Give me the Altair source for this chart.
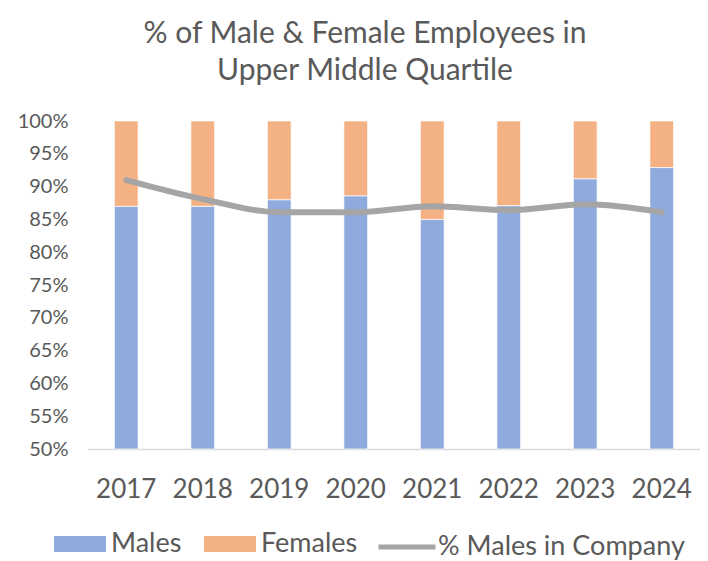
import altair as alt
import pandas as pd

years = ["2017", "2018", "2019", "2020", "2021", "2022", "2023", "2024"]
males = [87.0, 87.0, 88.0, 88.6, 85.0, 87.1, 91.2, 92.9]
company_males = [91.0, 88.1, 86.1, 86.1, 87.0, 86.4, 87.3, 86.1]
bar_series = ["Males", "Females"]
bar_colors = ["#8FAADC", "#F4B183"]
line_series = ["% Males in Company"]
line_colors = ["#A5A5A5"]
y_ticks = [50, 55, 60, 65, 70, 75, 80, 85, 90, 95, 100]

rows = []
for y, m in zip(years, males):
    rows.append({"year": y, "series": "Males", "start": 50, "end": m})
    rows.append({"year": y, "series": "Females", "start": m, "end": 100})
bars_df = pd.DataFrame(rows)
line_df = pd.DataFrame({"year": years, "value": company_males, "series": line_series[0]})

FONT = "Lato"
TXT = "#595959"

x_axis = alt.Axis(labelAngle=0, labelFontSize=26, labelColor=TXT, labelFont=FONT,
                  ticks=False, domainColor="#D9D9D9", domainWidth=1.5,
                  labelPadding=27, grid=False)
y_axis = alt.Axis(values=y_ticks, labelExpr="datum.value + '%'", labelFontSize=20,
                  labelColor=TXT, labelFont=FONT, ticks=False, domain=False,
                  grid=False, labelPadding=20, labelOverlap=False, tickCount=11)
x_scale = alt.Scale(paddingInner=0.69, paddingOuter=0.345)
y_scale = alt.Scale(domain=[50, 100], zero=False, nice=False)

bar_legend = alt.Legend(
    title=None, orient="none", direction="horizontal", legendX=-34, legendY=397,
    labelFontSize=27, labelColor=TXT, labelFont=FONT, labelOffset=5, labelLimit=400,
    columnPadding=22, symbolSize=2704, symbolStrokeWidth=0,
    symbolType="M-1,-0.31L1,-0.31L1,0.31L-1,0.31Z",
)
line_legend = alt.Legend(
    title=None, orient="none", direction="horizontal", legendX=288, legendY=395,
    labelFontSize=27, labelColor=TXT, labelFont=FONT, labelOffset=0, labelLimit=400,
    symbolSize=3249, symbolStrokeWidth=5, symbolType="M-1,0L1,0",
)

bars = alt.Chart(bars_df).mark_bar(stroke="white", strokeWidth=0.7).encode(
    x=alt.X("year:N", sort=years, title=None, scale=x_scale, axis=x_axis),
    y=alt.Y("start:Q", scale=y_scale, title=None, axis=y_axis),
    y2="end:Q",
    color=alt.Color("series:N", scale=alt.Scale(domain=bar_series, range=bar_colors),
                    legend=bar_legend),
)

line = alt.Chart(line_df).mark_line(strokeWidth=6, strokeCap="round", interpolate="monotone").encode(
    x=alt.X("year:N", sort=years, title=None, scale=x_scale, axis=x_axis),
    y=alt.Y("value:Q", scale=y_scale, title=None, axis=y_axis),
    stroke=alt.Stroke("series:N", scale=alt.Scale(domain=line_series, range=line_colors),
                      legend=line_legend),
)

chart = alt.layer(bars, line).resolve_scale(color="independent").properties(
    width=612, height=328,
    title=alt.TitleParams(["% of Male & Female Employees in", "Upper Middle Quartile"],
                          fontSize=30, font=FONT, color=TXT, fontWeight="normal",
                          anchor="middle", dx=-29, offset=25, lineHeight=37),
    autosize=alt.AutoSizeParams(type="none"),
    padding={"left": 80, "top": 113, "right": 0, "bottom": 112},
).configure_view(stroke=None)

chart.save("out.html", embed_options={"renderer": "svg", "actions": False})
